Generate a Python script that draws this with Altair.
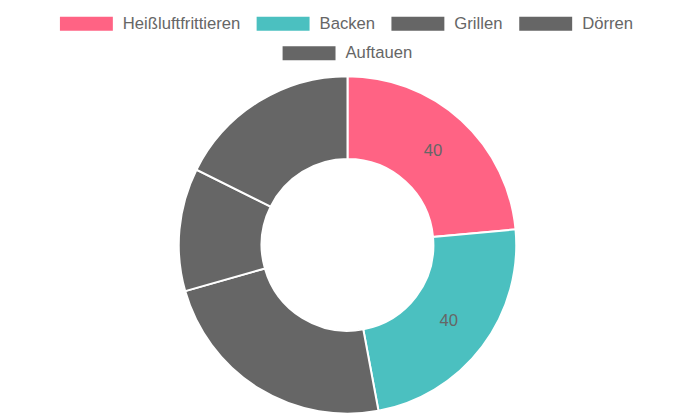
import altair as alt
import pandas as pd

categories = ["Heißluftfrittieren", "Backen", "Grillen", "Dörren", "Auftauen"]
values = [40, 40, 40, 20, 30]
colors = ["#FF6384", "#4BC0C0", "#666666", "#666666", "#666666"]
legend_row1 = categories[:4]
legend_row2 = categories[4:]

df = pd.DataFrame({"category": categories, "value": values, "idx": list(range(len(categories)))})

base = alt.Chart(df)
theta = alt.Theta("value:Q", stack=True)
order = alt.Order("idx:Q", sort="ascending")

arcs = base.mark_arc(innerRadius=86, outerRadius=169, stroke="white", strokeWidth=2).encode(
    theta=theta,
    order=order,
    color=alt.Color("category:N", scale=alt.Scale(domain=categories, range=colors), legend=None),
)

labels = base.mark_text(radius=127, font="Liberation Sans", fontSize=16.7, color="#666666").encode(
    theta=theta, order=order, text="value:Q"
)

BOX = "M-1,-0.264L1,-0.264L1,0.264L-1,0.264Z"


def legend_layer(cats, x, y):
    cols = [colors[categories.index(c)] for c in cats]
    return (
        base.transform_filter(alt.FieldOneOfPredicate(field="category", oneOf=cats))
        .mark_point(filled=True, opacity=0)
        .encode(
            color=alt.Color(
                "category:N",
                scale=alt.Scale(domain=cats, range=cols),
                legend=alt.Legend(
                    title=None,
                    orient="none",
                    legendX=x,
                    legendY=y,
                    direction="horizontal",
                    symbolType=BOX,
                    symbolSize=2809,
                    symbolOpacity=1,
                    symbolStrokeWidth=0,
                    labelFont="Liberation Sans",
                    labelFontSize=16.7,
                    labelColor="#666666",
                    labelOffset=10,
                    columnPadding=16,
                    labelLimit=400,
                ),
            )
        )
    )


chart = (
    alt.layer(arcs, labels, legend_layer(legend_row1, 52, -80.5), legend_layer(legend_row2, 275, -50.5))
    .resolve_scale(color="independent")
    .properties(
        width=680,
        height=336,
        padding={"left": 0, "top": 69, "right": 0, "bottom": 0},
        autosize=alt.AutoSizeParams(type="none"),
        background="white",
    )
    .configure_view(stroke=None)
)

chart.save("out.html", embed_options={"renderer": "svg", "actions": False})
